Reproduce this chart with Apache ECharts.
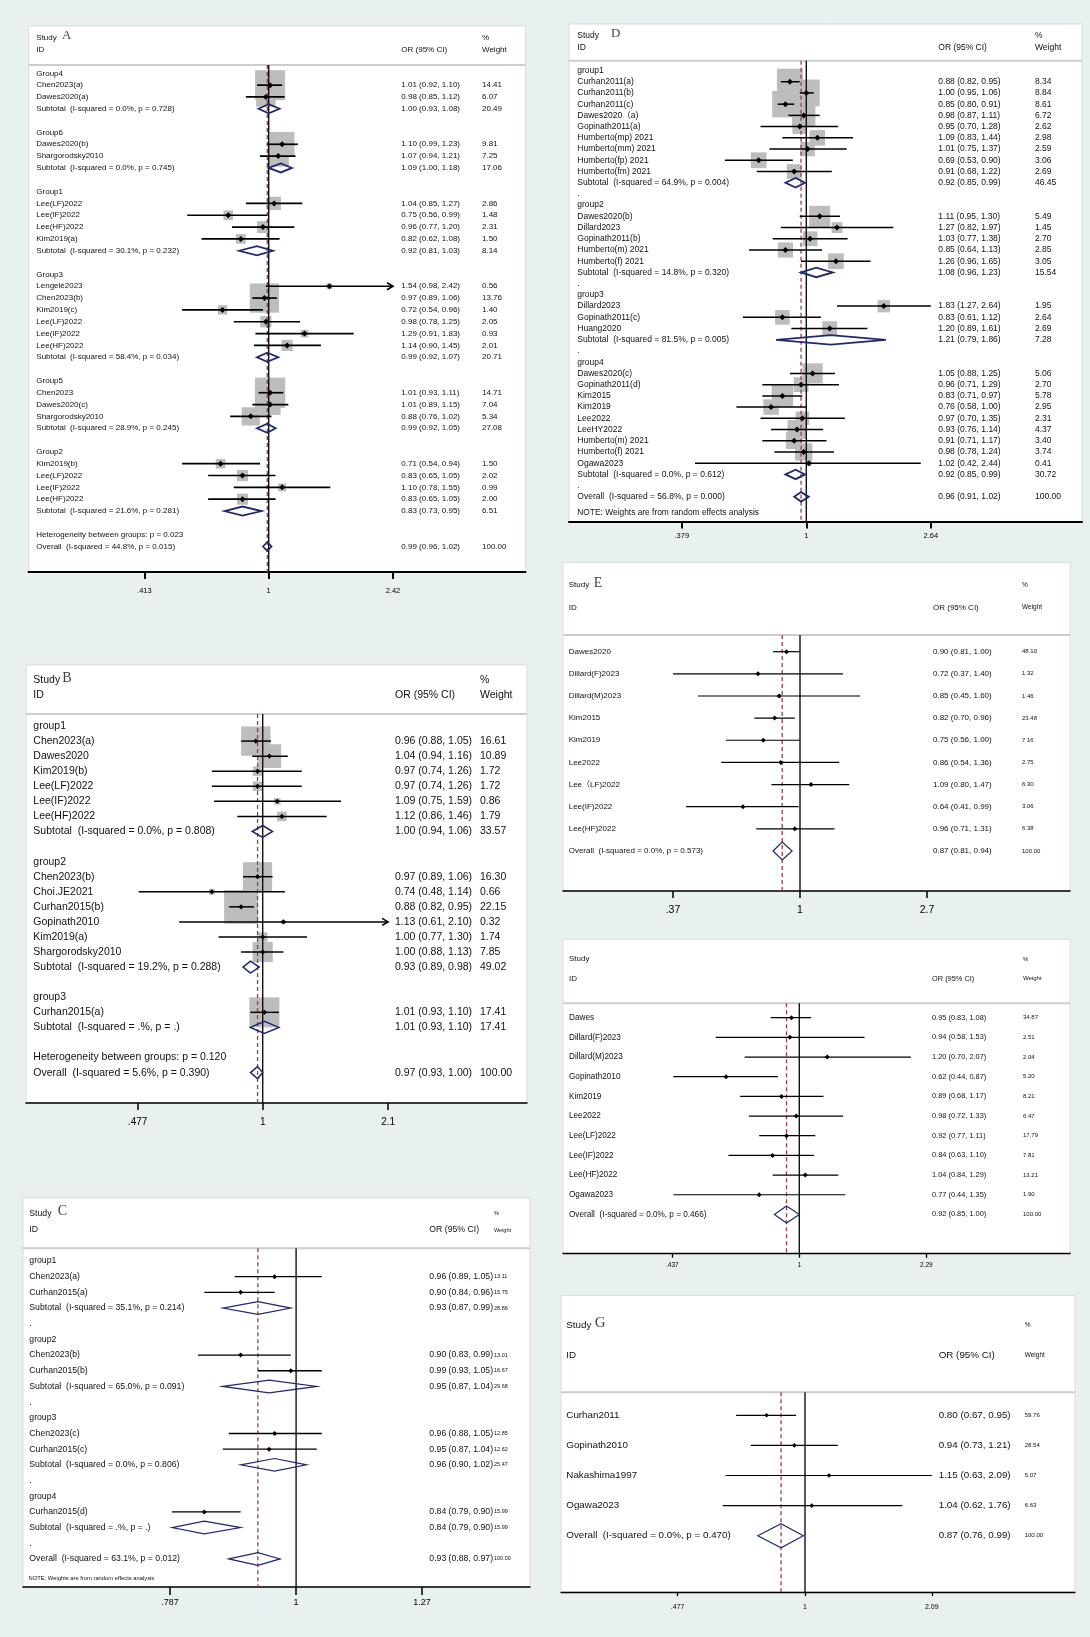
<!DOCTYPE html>
<html><head><meta charset="utf-8">
<script src="https://cdn.jsdelivr.net/npm/echarts@6.0.0/dist/echarts.min.js"></script>
<style>html,body{margin:0;padding:0;background:#e8f1f0}#c{width:1090px;height:1637px}</style>
</head><body><div id="c"></div>
<script>
// ---------------- DATA ----------------
// rows: [label, OR, lower, upper, weight]  (label only = text row)
const rowsA = [
 ['Group4'],
 ['Chen2023(a)',1.01,0.92,1.10,14.41],
 ['Dawes2020(a)',0.98,0.85,1.12,6.07],
 ['Subtotal  (I-squared = 0.0%, p = 0.728)',1.00,0.93,1.08,20.49],
 [''],
 ['Group6'],
 ['Dawes2020(b)',1.10,0.99,1.23,9.81],
 ['Shargorodsky2010',1.07,0.94,1.21,7.25],
 ['Subtotal  (I-squared = 0.0%, p = 0.745)',1.09,1.00,1.18,17.06],
 [''],
 ['Group1'],
 ['Lee(LF)2022',1.04,0.85,1.27,2.86],
 ['Lee(IF)2022',0.75,0.56,0.99,1.48],
 ['Lee(HF)2022',0.96,0.77,1.20,2.31],
 ['Kim2019(a)',0.82,0.62,1.08,1.50],
 ['Subtotal  (I-squared = 30.1%, p = 0.232)',0.92,0.81,1.03,8.14],
 [''],
 ['Group3'],
 ['Lengelé2023',1.54,0.98,2.42,0.56],
 ['Chen2023(b)',0.97,0.89,1.06,13.76],
 ['Kim2019(c)',0.72,0.54,0.96,1.40],
 ['Lee(LF)2022',0.98,0.78,1.25,2.05],
 ['Lee(IF)2022',1.29,0.91,1.83,0.93],
 ['Lee(HF)2022',1.14,0.90,1.45,2.01],
 ['Subtotal  (I-squared = 58.4%, p = 0.034)',0.99,0.92,1.07,20.71],
 [''],
 ['Group5'],
 ['Chen2023',1.01,0.93,1.11,14.71],
 ['Dawes2020(c)',1.01,0.89,1.15,7.04],
 ['Shargorodsky2010',0.88,0.76,1.02,5.34],
 ['Subtotal  (I-squared = 28.9%, p = 0.245)',0.99,0.92,1.05,27.08],
 [''],
 ['Group2'],
 ['Kim2019(b)',0.71,0.54,0.94,1.50],
 ['Lee(LF)2022',0.83,0.65,1.05,2.02],
 ['Lee(IF)2022',1.10,0.78,1.55,0.99],
 ['Lee(HF)2022',0.83,0.65,1.05,2.00],
 ['Subtotal  (I-squared = 21.6%, p = 0.281)',0.83,0.73,0.95,6.51],
 [''],
 ['Heterogeneity between groups: p = 0.023'],
 ['Overall  (I-squared = 44.8%, p = 0.015)',0.99,0.96,1.02,100.00]
];
const ticksA = [0.413, 1, 2.42];
const tickTextA = ['.413', '1', '2.42'];

const rowsB = [
 ['group1'],
 ['Chen2023(a)',0.96,0.88,1.05,16.61],
 ['Dawes2020',1.04,0.94,1.16,10.89],
 ['Kim2019(b)',0.97,0.74,1.26,1.72],
 ['Lee(LF)2022',0.97,0.74,1.26,1.72],
 ['Lee(IF)2022',1.09,0.75,1.59,0.86],
 ['Lee(HF)2022',1.12,0.86,1.46,1.79],
 ['Subtotal  (I-squared = 0.0%, p = 0.808)',1.00,0.94,1.06,33.57],
 [''],
 ['group2'],
 ['Chen2023(b)',0.97,0.89,1.06,16.30],
 ['Choi.JE2021',0.74,0.48,1.14,0.66],
 ['Curhan2015(b)',0.88,0.82,0.95,22.15],
 ['Gopinath2010',1.13,0.61,2.10,0.32],
 ['Kim2019(a)',1.00,0.77,1.30,1.74],
 ['Shargorodsky2010',1.00,0.88,1.13,7.85],
 ['Subtotal  (I-squared = 19.2%, p = 0.288)',0.93,0.89,0.98,49.02],
 [''],
 ['group3'],
 ['Curhan2015(a)',1.01,0.93,1.10,17.41],
 ['Subtotal  (I-squared = .%, p = .)',1.01,0.93,1.10,17.41],
 [''],
 ['Heterogeneity between groups: p = 0.120'],
 ['Overall  (I-squared = 5.6%, p = 0.390)',0.97,0.93,1.00,100.00]
];
const ticksB = [0.477, 1, 2.1];
const tickTextB = ['.477', '1', '2.1'];

const rowsC = [
 ['group1'],
 ['Chen2023(a)',0.96,0.89,1.05,13.11],
 ['Curhan2015(a)',0.90,0.84,0.96,15.75],
 ['Subtotal  (I-squared = 35.1%, p = 0.214)',0.93,0.87,0.99,28.86],
 ['.'],
 ['group2'],
 ['Chen2023(b)',0.90,0.83,0.99,13.01],
 ['Curhan2015(b)',0.99,0.93,1.05,16.67],
 ['Subtotal  (I-squared = 65.0%, p = 0.091)',0.95,0.87,1.04,29.68],
 ['.'],
 ['group3'],
 ['Chen2023(c)',0.96,0.88,1.05,12.85],
 ['Curhan2015(c)',0.95,0.87,1.04,12.62],
 ['Subtotal  (I-squared = 0.0%, p = 0.806)',0.96,0.90,1.02,25.47],
 ['.'],
 ['group4'],
 ['Curhan2015(d)',0.84,0.79,0.90,15.99],
 ['Subtotal  (I-squared = .%, p = .)',0.84,0.79,0.90,15.99],
 ['.'],
 ['Overall  (I-squared = 63.1%, p = 0.012)',0.93,0.88,0.97,100.00]
];
const ticksC = [0.787, 1, 1.27];
const tickTextC = ['.787', '1', '1.27'];

const rowsD = [
 ['group1'],
 ['Curhan2011(a)',0.88,0.82,0.95,8.34],
 ['Curhan2011(b)',1.00,0.95,1.06,8.84],
 ['Curhan2011(c)',0.85,0.80,0.91,8.61],
 ['Dawes2020（a)',0.98,0.87,1.11,6.72],
 ['Gopinath2011(a)',0.95,0.70,1.28,2.62],
 ['Humberto(mp) 2021',1.09,0.83,1.44,2.98],
 ['Humberto(mm) 2021',1.01,0.75,1.37,2.59],
 ['Humberto(fp) 2021',0.69,0.53,0.90,3.06],
 ['Humberto(fm) 2021',0.91,0.68,1.22,2.69],
 ['Subtotal  (I-squared = 64.9%, p = 0.004)',0.92,0.85,0.99,46.45],
 ['.'],
 ['group2'],
 ['Dawes2020(b)',1.11,0.95,1.30,5.49],
 ['Dillard2023',1.27,0.82,1.97,1.45],
 ['Gopinath2011(b)',1.03,0.77,1.38,2.70],
 ['Humberto(m) 2021',0.85,0.64,1.13,2.85],
 ['Humberto(f) 2021',1.26,0.96,1.65,3.05],
 ['Subtotal  (I-squared = 14.8%, p = 0.320)',1.08,0.96,1.23,15.54],
 ['.'],
 ['group3'],
 ['Dillard2023',1.83,1.27,2.64,1.95],
 ['Gopinath2011(c)',0.83,0.61,1.12,2.64],
 ['Huang2020',1.20,0.89,1.61,2.69],
 ['Subtotal  (I-squared = 81.5%, p = 0.005)',1.21,0.79,1.86,7.28],
 ['.'],
 ['group4'],
 ['Dawes2020(c)',1.05,0.88,1.25,5.06],
 ['Gopinath2011(d)',0.96,0.71,1.29,2.70],
 ['Kim2015',0.83,0.71,0.97,5.78],
 ['Kim2019',0.76,0.58,1.00,2.95],
 ['Lee2022',0.97,0.70,1.35,2.31],
 ['LeeHY2022',0.93,0.76,1.14,4.37],
 ['Humberto(m) 2021',0.91,0.71,1.17,3.40],
 ['Humberto(f) 2021',0.98,0.78,1.24,3.74],
 ['Ogawa2023',1.02,0.42,2.44,0.41],
 ['Subtotal  (I-squared = 0.0%, p = 0.612)',0.92,0.85,0.99,30.72],
 ['.'],
 ['Overall  (I-squared = 56.8%, p = 0.000)',0.96,0.91,1.02,100.00]
];
const ticksD = [0.379, 1, 2.64];
const tickTextD = ['.379', '1', '2.64'];

const rowsE = [
 ['Dawes2020',0.90,0.81,1.00,48.10],
 ['Dillard(F)2023',0.72,0.37,1.40,1.32],
 ['Dillard(M)2023',0.85,0.45,1.60,1.46],
 ['Kim2015',0.82,0.70,0.96,23.48],
 ['Kim2019',0.75,0.56,1.00,7.16],
 ['Lee2022',0.86,0.54,1.36,2.75],
 ['Lee（LF)2022',1.09,0.80,1.47,6.30],
 ['Lee(IF)2022',0.64,0.41,0.99,3.06],
 ['Lee(HF)2022',0.96,0.71,1.31,6.38],
 ['Overall  (I-squared = 0.0%, p = 0.573)',0.87,0.81,0.94,100.00]
];
const ticksE = [0.37, 1, 2.7];
const tickTextE = ['.37', '1', '2.7'];

const rowsF = [
 ['Dawes',0.95,0.83,1.08,34.87],
 ['Dillard(F)2023',0.94,0.58,1.53,2.51],
 ['Dillard(M)2023',1.20,0.70,2.07,2.04],
 ['Gopinath2010',0.62,0.44,0.87,5.20],
 ['Kim2019',0.89,0.68,1.17,8.21],
 ['Lee2022',0.98,0.72,1.33,6.47],
 ['Lee(LF)2022',0.92,0.77,1.11,17.79],
 ['Lee(IF)2022',0.84,0.63,1.10,7.81],
 ['Lee(HF)2022',1.04,0.84,1.29,13.21],
 ['Ogawa2023',0.77,0.44,1.35,1.90],
 ['Overall  (I-squared = 0.0%, p = 0.466)',0.92,0.85,1.00,100.00]
];
const ticksF = [0.437, 1, 2.29];
const tickTextF = ['.437', '1', '2.29'];

const rowsG = [
 ['Curhan2011',0.80,0.67,0.95,59.76],
 ['Gopinath2010',0.94,0.73,1.21,28.54],
 ['Nakashima1997',1.15,0.63,2.09,5.07],
 ['Ogawa2023',1.04,0.62,1.76,6.63],
 ['Overall  (I-squared = 0.0%, p = 0.470)',0.87,0.76,0.99,100.00]
];
const ticksG = [0.477, 1, 2.09];
const tickTextG = ['.477', '1', '2.09'];

const noteText = 'NOTE: Weights are from random effects analysis';

// ---------------- LAYOUT / STYLE ----------------
const FONT = '"Liberation Sans", Arial, "Noto Sans CJK SC", sans-serif';
const SERIF = '"Liberation Serif", "DejaVu Serif", serif';
const PANELS = [
 {rows:rowsA, ticks:ticksA, tickText:tickTextA, x0:28.5, x1:525.5, top:26, sep:65, axis:572, row0:73.3, step:11.83, ref:268.7, ppl:140.6,
  fs:8, orFs:8, wFs:8, hdrFs:8, pctFs:8, colL:36.3, colOR:401.3, colW:482, hdr1:38, hdr2:50, letter:'A', letterX:62, letterFs:13,
  sqK:7.9, mk:3, ciW:1.7, dH:9, dLW:1.8, arrow:true, axW:2, tickLen:7, tickFs:7.5, tickMargin:14.8},
 {rows:rowsB, ticks:ticksB, tickText:tickTextB, x0:26, x1:527, top:665, sep:714, axis:1103, row0:726, step:15.07, ref:262.7, ppl:169,
  fs:10.5, orFs:10.5, wFs:10.5, hdrFs:10.5, pctFs:10.5, colL:33.3, colOR:395, colW:480, hdr1:680, hdr2:695, letter:'B', letterX:62.3, letterFs:14,
  sqK:7.2, mk:2.6, ciW:1.5, dH:12, dLW:1.5, arrow:true, axW:1.5, tickLen:7, tickFs:10, tickMargin:14},
 {rows:rowsC, ticks:ticksC, tickText:tickTextC, x0:23, x1:530, top:1198, sep:1248.3, axis:1587, row0:1261, step:15.68, ref:296.1, ppl:526.5,
  fs:8.7, orFs:8.7, wFs:5.5, hdrFs:8.7, pctFs:5.5, colL:29.3, colOR:429.3, colW:494, hdr1:1213.3, hdr2:1230, letter:'C', letterX:57.7, letterFs:14,
  sqK:0, mk:2.5, ciW:1.3, dH:12.7, dLW:1.2, arrow:false, axW:1.5, tickLen:8, tickFs:9, tickMargin:11, note:{x:28.5, y:1578, fs:5.8}},
 {rows:rowsD, ticks:ticksD, tickText:tickTextD, x0:569, x1:1082, top:24, sep:60.7, axis:522, row0:70.5, step:11.22, ref:806.3, ppl:128.3,
  fs:8.5, orFs:8.5, wFs:8.5, hdrFs:8.5, pctFs:8.5, colL:577.3, colOR:938.3, colW:1035, hdr1:36, hdr2:47.3, letter:'D', letterX:611, letterFs:13,
  sqK:9.0, mk:3, ciW:1.5, dH:9.5, dLW:1.8, arrow:false, axW:2, tickLen:6.5, tickFs:7.5, tickMargin:10.5, note:{x:577.3, y:513, fs:8.4}},
 {rows:rowsE, ticks:ticksE, tickText:tickTextE, x0:563, x1:1070, top:562.3, sep:635, axis:891, row0:651.7, step:22.14, ref:800, ppl:127.8,
  fs:8, orFs:8, wFs:6, hdrFs:8, pctFs:6.5, colL:568.7, colOR:933, colW:1022, hdr1:585, hdr2:607.3, letter:'E', letterX:593.7, letterFs:14,
  sqK:0, mk:2.5, ciW:1.2, dH:18, dLW:1.2, arrow:false, axW:1.5, tickLen:7, tickFs:10.5, tickMargin:13.5},
 {rows:rowsF, ticks:ticksF, tickText:tickTextF, x0:563, x1:1070, top:939.3, sep:1003.3, axis:1253.7, row0:1017.7, step:19.67, ref:799.3, ppl:153.4,
  fs:8.2, orFs:7.4, wFs:6, hdrFs:8, pctFs:6, colL:569, colOR:932, colW:1023, hdr1:959, hdr2:978.7, letter:'', letterX:0, letterFs:14,
  sqK:0, mk:2.5, ciW:1.2, dH:17, dLW:1.2, arrow:false, axW:1.3, tickLen:4, tickFs:6.5, tickMargin:7.8},
 {rows:rowsG, ticks:ticksG, tickText:tickTextG, x0:561, x1:1075, top:1295.3, sep:1392.3, axis:1592, row0:1415.3, step:30.1, ref:805, ppl:172,
  fs:9.8, orFs:9.8, wFs:6, hdrFs:9.8, pctFs:6.5, colL:566.3, colOR:938.7, colW:1024.7, hdr1:1325.3, hdr2:1355.3, letter:'G', letterX:594.7, letterFs:15,
  sqK:0, mk:2.3, ciW:1.2, dH:24, dLW:1.2, arrow:false, axW:1.3, tickLen:4, tickFs:7, tickMargin:12}
];

const isPooled = lab => /^(Subtotal|Overall)/.test(lab);
const fmt = v => v.toFixed(2);
const TXT = '#111', NAVY = '#1f2a6e', RED = '#a33b45', GREYSQ = '#bdbdbd';

const grids = [], xAxes = [], yAxes = [], series = [], graphics = [];

PANELS.forEach((p, k) => {
  const xmin = (p.x0 - p.ref) / p.ppl, xmax = (p.x1 - p.ref) / p.ppl;
  const ymin = (p.sep - p.row0) / p.step, ymax = (p.axis - p.row0) / p.step;
  const lnTicks = p.ticks.map(Math.log);
  grids.push({left: p.x0, top: p.sep, width: p.x1 - p.x0, height: p.axis - p.sep});
  xAxes.push({
    type: 'value', gridIndex: k, min: xmin, max: xmax, position: 'bottom',
    axisLine: {show: true, onZero: false, lineStyle: {color: '#000', width: p.axW}},
    axisTick: {show: true, customValues: lnTicks, length: p.tickLen, lineStyle: {color: '#000', width: p.axW}},
    axisLabel: {customValues: lnTicks, margin: p.tickMargin, fontSize: p.tickFs, color: '#000', fontFamily: FONT,
      formatter: v => { const i = lnTicks.findIndex(t => Math.abs(t - v) < 1e-6); return i >= 0 ? p.tickText[i] : ''; }},
    splitLine: {show: false}
  });
  yAxes.push({type: 'value', gridIndex: k, inverse: true, min: ymin, max: ymax, show: false});

  // panel background, separator, headers
  graphics.push({type: 'rect', silent: true, z: -10, shape: {x: p.x0, y: p.top, width: p.x1 - p.x0, height: p.axis - p.top},
    style: {fill: '#fff', stroke: '#d6dede', lineWidth: 1}});
  graphics.push({type: 'line', silent: true, z: -5, shape: {x1: p.x0, y1: p.sep, x2: p.x1, y2: p.sep},
    style: {stroke: '#cdcdcd', lineWidth: 2}});
  const hdr = (text, x, y, fs, font) => graphics.push({type: 'text', silent: true, x, y,
    style: {text, fontSize: fs, fontFamily: font || FONT, fill: TXT, verticalAlign: 'middle', align: 'left'}});
  hdr('Study', p.colL, p.hdr1, p.hdrFs);
  hdr('ID', p.colL, p.hdr2, p.hdrFs);
  hdr('OR (95% CI)', p.colOR, p.hdr2, p.orFs);
  hdr('%', p.colW, p.hdr1, p.pctFs);
  hdr('Weight', p.colW, p.hdr2, p.pctFs);
  if (p.letter) graphics.push({type: 'text', silent: true, x: p.letterX, y: p.hdr1 - 2,
    style: {text: p.letter, fontSize: p.letterFs, fontFamily: SERIF, fill: '#444', verticalAlign: 'middle', align: 'left'}});
  if (p.note) hdr(noteText, p.note.x, p.note.y, p.note.fs);

  // weighted squares
  const sqData = p.rows.map((r, i) => (r.length > 1 && !isPooled(r[0])) ? [Math.log(r[1]), i, r[4]] : null).filter(Boolean);
  if (p.sqK > 0) series.push({
    type: 'custom', coordinateSystem: 'cartesian2d', xAxisIndex: k, yAxisIndex: k, z: 1, silent: true, animation: false,
    data: sqData,
    renderItem: (params, api) => {
      const c = api.coord([api.value(0), api.value(1)]);
      const s = p.sqK * Math.sqrt(api.value(2));
      return {type: 'rect', shape: {x: c[0] - s / 2, y: c[1] - s / 2, width: s, height: s}, style: {fill: GREYSQ}};
    }
  });

  // reference lines (null at 1, dashed at overall estimate)
  const overall = p.rows.find(r => /^Overall/.test(r[0]));
  series.push({
    type: 'custom', coordinateSystem: 'cartesian2d', xAxisIndex: k, yAxisIndex: k, z: 2, silent: true, animation: false,
    data: [[0, 0, 0], [Math.log(overall[1]), 0, 1]],
    renderItem: (params, api) => {
      const a = api.coord([api.value(0), ymin]), b = api.coord([api.value(0), ymax]);
      const dashed = api.value(2) === 1;
      return {type: 'line', shape: {x1: a[0], y1: a[1], x2: b[0], y2: b[1]},
        style: dashed ? {stroke: RED, lineWidth: 1.3, lineDash: [4, 3]} : {stroke: '#111', lineWidth: 1.4}};
    }
  });

  // rows: text, CIs, points, diamonds
  series.push({
    type: 'custom', coordinateSystem: 'cartesian2d', xAxisIndex: k, yAxisIndex: k, z: 3, silent: true, animation: false,
    data: p.rows.map((r, i) => [0, i]),
    renderItem: (params, api) => {
      const i = api.value(1); const r = p.rows[i];
      const y = api.coord([0, i])[1];
      const ch = [];
      const t = (text, x, fs) => ch.push({type: 'text', x, y,
        style: {text, fontSize: fs, fontFamily: FONT, fill: TXT, verticalAlign: 'middle', align: 'left'}});
      if (r[0]) t(r[0], p.colL, p.fs);
      if (r.length > 1) {
        const [lab, e, l, h, w] = r;
        t(fmt(e) + ' (' + fmt(l) + ', ' + fmt(h) + ')', p.colOR, p.orFs);
        t(fmt(w), p.colW, p.wFs);
        const xe = api.coord([Math.log(e), i])[0];
        const xl = api.coord([Math.log(l), i])[0];
        const xh = api.coord([Math.log(h), i])[0];
        if (isPooled(lab)) {
          const hh = p.dH / 2;
          ch.push({type: 'polygon', shape: {points: [[xl, y], [xe, y - hh], [xh, y], [xe, y + hh]]},
            style: {fill: 'rgba(0,0,0,0)', stroke: NAVY, lineWidth: p.dLW}});
        } else {
          ch.push({type: 'line', shape: {x1: xl, y1: y, x2: xh, y2: y}, style: {stroke: '#000', lineWidth: p.ciW}});
          if (p.arrow && h >= p.ticks[p.ticks.length - 1] - 1e-9) {
            ch.push({type: 'polyline', shape: {points: [[xh - 6, y - 3.5], [xh, y], [xh - 6, y + 3.5]]},
              style: {stroke: '#000', lineWidth: p.ciW, fill: null}});
          }
          const m = p.mk;
          ch.push({type: 'polygon', shape: {points: [[xe, y - m], [xe + m, y], [xe, y + m], [xe - m, y]]}, style: {fill: '#000'}});
        }
      }
      return {type: 'group', children: ch};
    }
  });
});

const chart = echarts.init(document.getElementById('c'), null, {renderer: 'canvas'});
chart.setOption({
  backgroundColor: '#e8f1f0',
  animation: false,
  grid: grids, xAxis: xAxes, yAxis: yAxes, series,
  graphic: {elements: graphics}
});
</script></body></html>
